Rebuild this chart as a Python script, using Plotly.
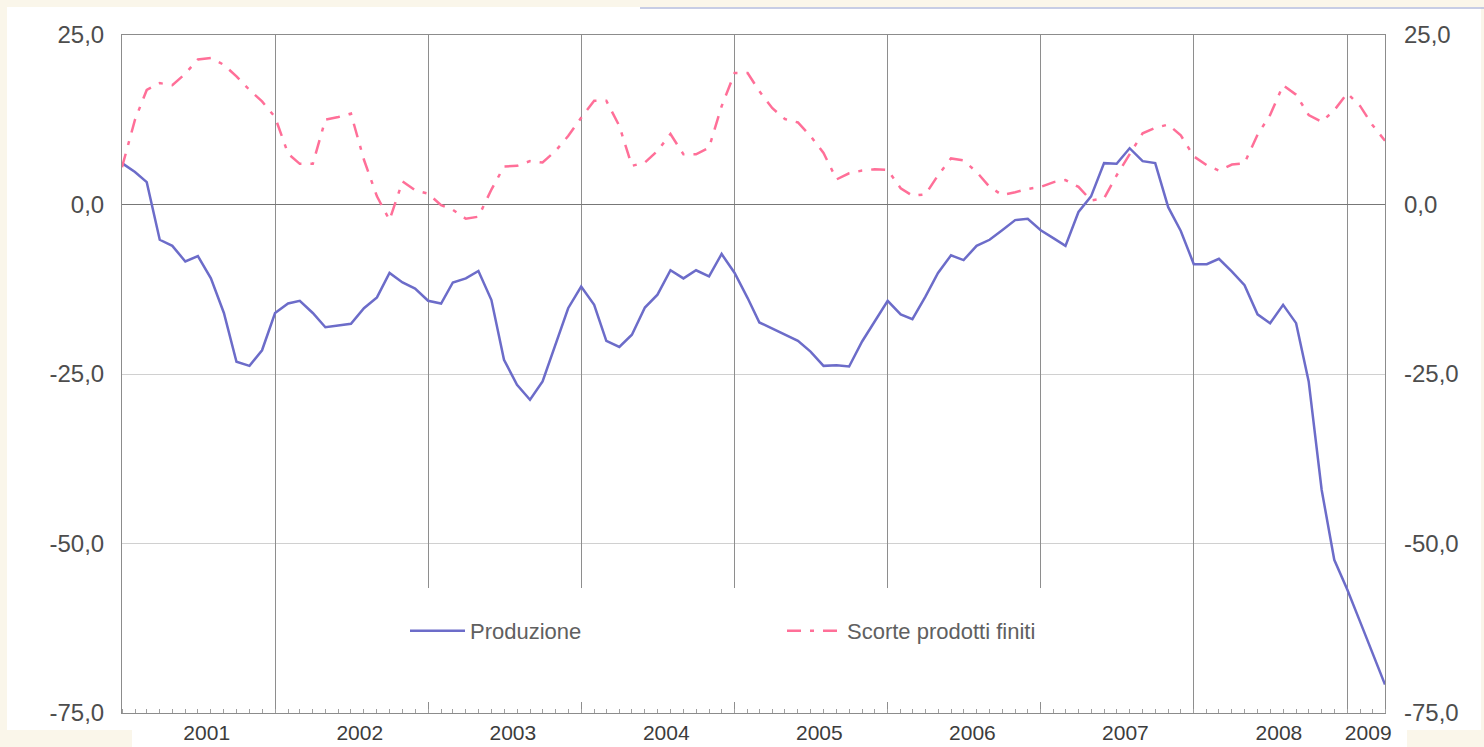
import pandas as pd
import plotly.graph_objects as go

# monthly series, Jan 2001 - Apr 2009
months = pd.date_range("2001-01-01", periods=100, freq="MS")

produzione = [
    6.1, 4.8, 3.3, -5.2, -6.1, -8.4, -7.6, -10.9, -16.0, -23.2, -23.8, -21.5,
    -16.0, -14.6, -14.2, -16.0, -18.1, -17.8, -17.6, -15.3, -13.7, -10.1, -11.5, -12.4,
    -14.2, -14.6, -11.5, -10.9, -9.8, -14.1, -22.9, -26.6, -28.8, -26.1, -20.7, -15.3,
    -12.1, -14.8, -20.1, -21.0, -19.2, -15.2, -13.3, -9.7, -10.9, -9.7, -10.6, -7.3,
    -10.1, -13.8, -17.4, -18.3, -19.2, -20.1, -21.7, -23.8, -23.7, -23.9, -20.2, -17.2,
    -14.2, -16.2, -16.9, -13.6, -10.1, -7.5, -8.2, -6.1, -5.2, -3.8, -2.3, -2.1,
    -3.8, -5.0, -6.1, -1.1, 1.2, 6.1, 6.0, 8.3, 6.4, 6.1, -0.4, -3.9,
    -8.8, -8.8, -8.0, -9.9, -11.9, -16.2, -17.5, -14.8, -17.5, -26.1, -42.1, -52.4,
    -56.8, -61.6, -66.0, -70.8,
]

scorte = [
    5.5, 12.5, 16.9, 17.9, 17.6, 19.3, 21.4, 21.6, 20.6, 18.9, 16.9, 15.2,
    12.9, 7.5, 6.0, 6.0, 12.5, 12.9, 13.4, 6.6, 1.2, -2.3, 3.4, 2.1,
    1.6, -0.1, -0.8, -2.1, -1.8, 2.2, 5.6, 5.7, 6.4, 6.2, 7.9, 10.1,
    12.8, 15.3, 15.3, 11.6, 5.7, 6.2, 7.9, 10.4, 7.4, 7.4, 8.4, 14.5,
    19.4, 19.4, 16.7, 14.2, 12.6, 12.1, 10.1, 7.6, 3.7, 4.6, 5.0, 5.2,
    5.1, 2.4, 1.3, 1.5, 4.3, 6.8, 6.5, 4.8, 2.6, 1.4, 1.8, 2.3,
    2.6, 3.3, 3.6, 2.6, 0.6, 0.9, 4.3, 7.5, 10.5, 11.3, 11.8, 10.2,
    7.1, 5.8, 5.0, 5.9, 6.1, 10.3, 13.2, 17.6, 16.2, 13.2, 12.2, 13.9,
    16.4, 14.5, 11.8, 9.4,
]

year_labels = ["2001", "2002", "2003", "2004", "2005", "2006", "2007", "2008", "2009"]
year_label_pos = [
    "2001-07-22", "2002-07-22", "2003-07-22", "2004-07-22", "2005-07-22",
    "2006-07-22", "2007-07-22", "2008-07-22", "2009-02-20",
]
year_starts = [f"{y}-01-01" for y in year_labels]
y_ticks = [-75, -50, -25, 0, 25]
y_tick_text = ["-75,0", "-50,0", "-25,0", "0,0", "25,0"]

W, H = 1484, 747
L, R, T, B = 122, 99, 35, 34
CREAM = "rgb(250,246,234)"
TEXT = "#4d4d4d"
FONT = "Liberation Sans, Arial, sans-serif"


def xp(px):
    return (px - L) / (W - L - R)


def yp(py):
    return (H - B - py) / (H - T - B)


def cream_box(x0, y0, x1, y1):
    return dict(type="rect", xref="paper", yref="paper",
                x0=xp(x0), x1=xp(x1), y0=yp(y1), y1=yp(y0),
                fillcolor=CREAM, line_width=0, layer="below")


x_range = [months[0], months[-1]]

fig = go.Figure()
fig.add_trace(go.Scatter(
    x=months, y=produzione, name="Produzione", mode="lines",
    line=dict(color="#6c6cc9", width=2.5), legend="legend",
))
fig.add_trace(go.Scatter(
    x=months, y=scorte, name="Scorte prodotti finiti", mode="lines",
    line=dict(color="#ff6f98", width=2.5, dash="14px,9px,4px,9px"),
    xaxis="x2", yaxis="y2", legend="legend2",
))

fig.update_layout(
    width=W, height=H,
    margin=dict(l=L, r=R, t=T, b=B),
    paper_bgcolor="white",
    plot_bgcolor="white",
    showlegend=True,
    font=dict(family=FONT, color=TEXT, size=22),
    xaxis=dict(
        type="date", range=x_range, automargin=False,
        tickmode="array", tickvals=year_label_pos, ticktext=year_labels,
        ticks="", showgrid=False, zeroline=False,
        showline=True, linecolor="#8c8c8c", linewidth=1, mirror=True,
        ticklabelstandoff=1,
        tickfont=dict(size=21, color="#3c3c3c"),
        minor=dict(dtick="M1", tick0="2001-01-01", ticks="inside", ticklen=4,
                   tickcolor="#a0a0a0", showgrid=False),
    ),
    xaxis2=dict(
        type="date", range=x_range, overlaying="x", automargin=False,
        tickmode="array", tickvals=year_starts,
        showticklabels=False, ticks="", showline=False, zeroline=False,
        showgrid=True, gridcolor="#8e8e8e", gridwidth=1,
    ),
    yaxis=dict(
        range=[-75, 25], automargin=False,
        tickmode="array", tickvals=y_ticks, ticktext=y_tick_text,
        showgrid=True, gridcolor="#d0d0d0",
        zeroline=True, zerolinecolor="#777777", zerolinewidth=1,
        showline=True, linecolor="#8c8c8c", linewidth=1, mirror=True,
        ticks="", ticklabelstandoff=12, tickfont=dict(size=24),
    ),
    yaxis2=dict(
        range=[-75, 25], overlaying="y", side="right", automargin=False,
        tickmode="array", tickvals=y_ticks, ticktext=y_tick_text,
        showgrid=False, zeroline=False, showline=False,
        ticks="", ticklabelstandoff=18, tickfont=dict(size=24),
    ),
    legend=dict(
        x=xp(405), y=yp(631), xanchor="left", yanchor="middle",
        orientation="h", bgcolor="rgba(0,0,0,0)", itemwidth=55,
        font=dict(size=22, color="#606060"),
    ),
    legend2=dict(
        x=xp(782), y=yp(631), xanchor="left", yanchor="middle",
        orientation="h", bgcolor="rgba(0,0,0,0)", itemwidth=55,
        font=dict(size=22, color="#606060"),
    ),
    shapes=[
        # white legend panel hiding the year lines
        dict(type="rect", xref="paper", yref="paper",
             x0=xp(292), x1=xp(1180), y0=yp(702), y1=yp(588),
             fillcolor="white", line_width=0, layer="above"),
        cream_box(0, 0, W, 7),
        cream_box(0, 0, 7, H),
        cream_box(W - 3, 0, W, H),
        cream_box(0, 730, 132, H),
        cream_box(1407, 730, W, H),
        dict(type="line", xref="paper", yref="paper",
             x0=xp(640), x1=xp(W), y0=yp(8), y1=yp(8),
             line=dict(color="#b4bcdc", width=1.5)),
    ],
)

page_fix = (
    "document.documentElement.style.margin = '0px';"
    "document.body.style.margin = '0px';"
    "document.documentElement.style.overflow = 'hidden';"
    "document.body.style.overflow = 'hidden';"
)
fig.write_html(
    "out.html",
    config={"responsive": False, "displayModeBar": False},
    post_script=page_fix,
)
